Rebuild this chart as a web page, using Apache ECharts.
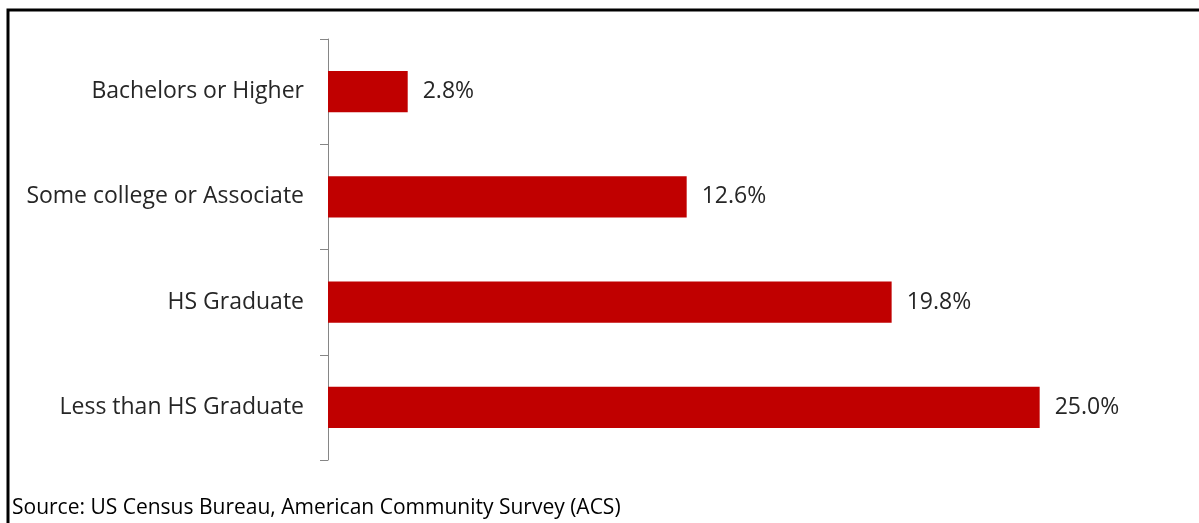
<!DOCTYPE html>
<html><head><meta charset="utf-8">
<script src="https://cdn.jsdelivr.net/npm/echarts@6/dist/echarts.min.js"></script>
<style>html,body{margin:0;padding:0;background:#fff}#c{width:1199px;height:523px}</style>
</head><body><div id="c"></div>
<script>
const categories = ["Bachelors or Higher", "Some college or Associate", "HS Graduate", "Less than HS Graduate"];
const values = [2.8, 12.6, 19.8, 25.0];
const sourceText = "Source: US Census Bureau, American Community Survey (ACS)";
const FONT = "'Open Sans', Lato, sans-serif";
const chart = echarts.init(document.getElementById('c'));
chart.setOption({
  animation: false,
  backgroundColor: '#fff',
  grid: {left: 328, right: 17, top: 39, bottom: 63},
  xAxis: {type: 'value', min: 0, max: 30, show: false},
  yAxis: {
    type: 'category', data: categories, inverse: true,
    axisLine: {lineStyle: {color: '#868686', width: 1}},
    axisTick: {show: true, length: 8, lineStyle: {color: '#868686'}},
    axisLabel: {color: '#262626', fontSize: 23, fontFamily: FONT, margin: 24, padding: [8, 0, 0, 0]}
  },
  series: [{
    type: 'bar', data: values, barWidth: '39%',
    itemStyle: {color: '#C00000'},
    label: {show: true, position: 'right', distance: 15, color: '#262626', fontSize: 23, fontFamily: FONT,
      padding: [8, 0, 0, 0], formatter: p => p.value.toFixed(1) + '%'}
  }],
  graphic: [
    {type: 'polyline', shape: {points: [[8, 523], [8, 10], [1199, 10]]}, style: {stroke: '#000', lineWidth: 3, fill: null}},
    {type: 'text', left: 12, top: 498, style: {text: sourceText, fill: '#000', fontSize: 21, fontFamily: FONT}}
  ]
});
</script></body></html>
